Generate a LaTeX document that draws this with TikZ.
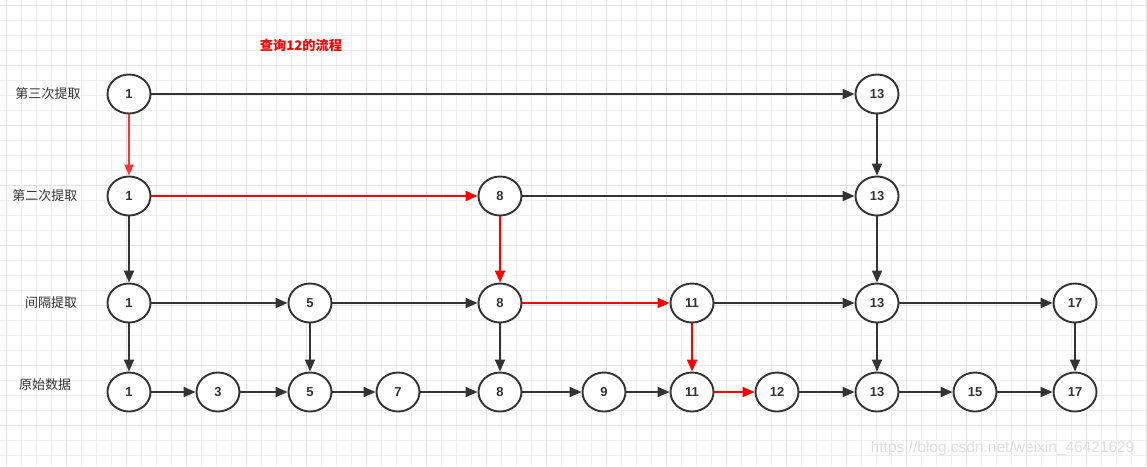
\documentclass[tikz,border=0pt]{standalone}
\usepackage{fontspec}
\setmainfont{Liberation Sans}
\newfontfamily\cjk{Noto Sans CJK SC}
\usetikzlibrary{arrows.meta,shapes.geometric}
\definecolor{ink}{HTML}{333333}
\definecolor{gridminor}{HTML}{EEEEEE}
\definecolor{gridmajor}{HTML}{E2E2E2}
\definecolor{hot}{HTML}{FF0000}
\definecolor{hotlight}{HTML}{FF3333}
\begin{document}
\begin{tikzpicture}[x=1pt,y=-1pt,
  num/.style={ellipse,draw=ink,line width=1.9pt,minimum width=43pt,minimum height=39pt,inner sep=0pt,font=\bfseries\fontsize{13}{15}\selectfont,text=ink,fill=white},
  rowlab/.style={font=\cjk\fontsize{13}{15}\selectfont,text=ink},
  link/.style={draw=ink,line width=2pt,-{Triangle[length=12pt,width=10pt]}},
  hotlink/.style={draw=hot,line width=2pt,-{Triangle[length=12pt,width=10pt]}}
]
\useasboundingbox (0,0) rectangle (1147,466);
\fill[white] (0,0) rectangle (1147,466);
% grid
\foreach \i in {0,...,76} {\draw[gridminor,line width=0.8pt] ({6.7+15*\i},0) -- ({6.7+15*\i},466);}
\foreach \j in {0,...,31} {\draw[gridminor,line width=0.8pt] (0,{5+15*\j}) -- (1147,{5+15*\j});}
\foreach \i in {0,...,19} {\draw[gridmajor,line width=0.8pt] ({6.7+60*\i},0) -- ({6.7+60*\i},466);}
\foreach \j in {0,...,7} {\draw[gridmajor,line width=0.8pt] (0,{5+60*\j}) -- (1147,{5+60*\j});}

\node[font=\cjk\bfseries\fontsize{13.2}{15}\selectfont,text=hot] (title) at (301,45) {查询12的流程};

\node[rowlab] (l3) at (48,94) {第三次提取};
\node[rowlab] (l2) at (45,196) {第二次提取};
\node[rowlab] (l1) at (51,303) {间隔提取};
\node[rowlab] (l0) at (45,385) {原始数据};

% row 3
\node[num] (a1) at (129,94) {1};
\node[num] (a13) at (877,94) {13};
% row 2
\node[num] (b1) at (129,196) {1};
\node[num] (b8) at (500,196) {8};
\node[num] (b13) at (877,196) {13};
% row 1
\node[num] (c1) at (129,303) {1};
\node[num] (c5) at (310,303) {5};
\node[num] (c8) at (500,303) {8};
\node[num] (c11) at (692,303) {11};
\node[num] (c13) at (877,303) {13};
\node[num] (c17) at (1075,303) {17};
% row 0
\node[num] (d1) at (129,392) {1};
\node[num] (d3) at (218,392) {3};
\node[num] (d5) at (310,392) {5};
\node[num] (d7) at (398,392) {7};
\node[num] (d8) at (500,392) {8};
\node[num] (d9) at (604,392) {9};
\node[num] (d11) at (692,392) {11};
\node[num] (d12) at (777,392) {12};
\node[num] (d13) at (877,392) {13};
\node[num] (d15) at (975,392) {15};
\node[num] (d17) at (1075,392) {17};

% horizontal
\draw[link] (a1) -- (a13);
\draw[hotlink] (b1) -- (b8);
\draw[link] (b8) -- (b13);
\draw[link] (c1) -- (c5);
\draw[link] (c5) -- (c8);
\draw[hotlink] (c8) -- (c11);
\draw[link] (c11) -- (c13);
\draw[link] (c13) -- (c17);
\draw[link] (d1) -- (d3);
\draw[link] (d3) -- (d5);
\draw[link] (d5) -- (d7);
\draw[link] (d7) -- (d8);
\draw[link] (d8) -- (d9);
\draw[link] (d9) -- (d11);
\draw[hotlink] (d11) -- (d12);
\draw[link] (d12) -- (d13);
\draw[link] (d13) -- (d15);
\draw[link] (d15) -- (d17);
% vertical
\draw[hotlink,draw=hotlight,-{Triangle[length=11pt,width=9pt,fill=hotlight]},line width=1.5pt] (a1) -- (b1);
\draw[link] (a13) -- (b13);
\draw[link] (b1) -- (c1);
\draw[hotlink] (b8) -- (c8);
\draw[link] (b13) -- (c13);
\draw[link] (c1) -- (d1);
\draw[link] (c5) -- (d5);
\draw[link] (c8) -- (d8);
\draw[hotlink] (c11) -- (d11);
\draw[link] (c13) -- (d13);
\draw[link] (c17) -- (d17);

\node[font=\fontsize{15.5}{17}\selectfont,text=black!13,anchor=east] (wm) at (1138,448) {https://blog.csdn.net/weixin\_46421629};
\end{tikzpicture}
\end{document}
